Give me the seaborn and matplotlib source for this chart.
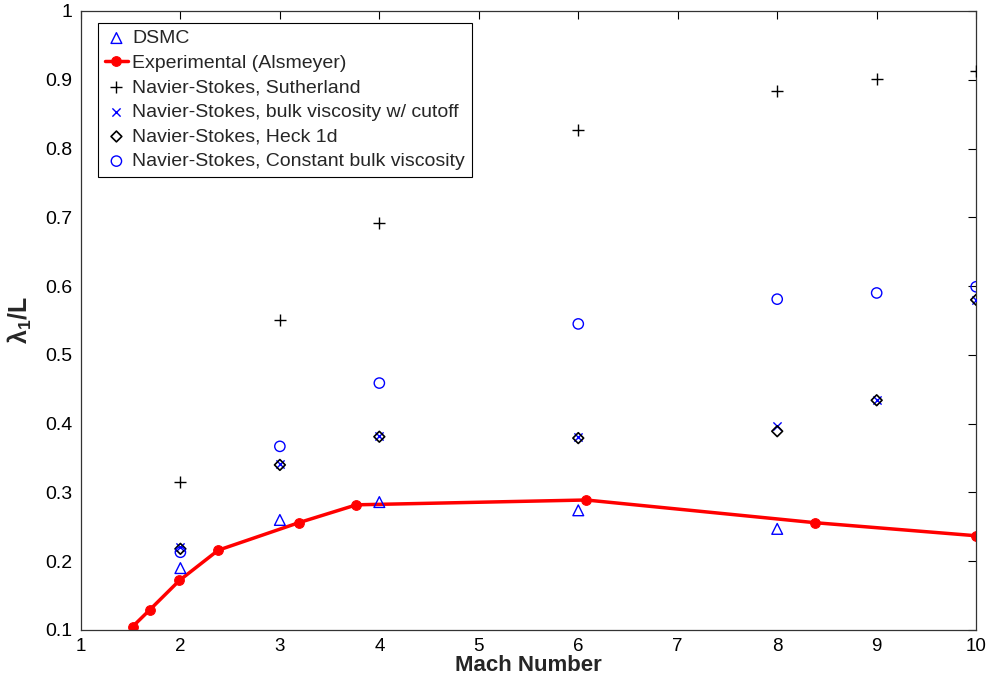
import matplotlib
matplotlib.use("Agg")
import matplotlib.pyplot as plt
import seaborn as sns
import pandas as pd

# ---- data ----
mach = [2, 3, 4, 6, 8, 9, 10]
dsmc_mach = [2, 3, 4, 6, 8]
dsmc = [0.190, 0.260, 0.286, 0.274, 0.247]
exp_mach = [1.52, 1.69, 1.99, 2.38, 3.19, 3.77, 6.08, 8.38, 10.0]
exp_val = [0.105, 0.129, 0.172, 0.216, 0.256, 0.282, 0.289, 0.256, 0.237]
sutherland = [0.315, 0.551, 0.692, 0.827, 0.883, 0.901, 0.913]
bulk_cutoff = [0.220, 0.341, 0.382, 0.380, 0.396, 0.434, 0.580]
heck1d = [0.218, 0.340, 0.381, 0.379, 0.389, 0.434, 0.580]
const_bulk = [0.213, 0.367, 0.459, 0.545, 0.581, 0.590, 0.599]
x_ticks = [1, 2, 3, 4, 5, 6, 7, 8, 9, 10]
y_ticks = [0.1, 0.2, 0.3, 0.4, 0.5, 0.6, 0.7, 0.8, 0.9, 1.0]
y_ticklabels = ["0.1", "0.2", "0.3", "0.4", "0.5", "0.6", "0.7", "0.8", "0.9", "1"]

sns.set_style("white")
plt.rcParams['font.family'] = ['Liberation Sans', 'DejaVu Sans']
plt.rcParams['mathtext.fontset'] = 'custom'
plt.rcParams['mathtext.rm'] = 'Liberation Sans'
plt.rcParams['mathtext.it'] = 'Liberation Sans'
plt.rcParams['mathtext.bf'] = 'Liberation Sans:bold'

fig = plt.figure(figsize=(9.87, 6.81), dpi=100)
ax = fig.add_axes([0.082, 0.0749, 0.907, 0.909])

blue = "#0000ff"

sns.scatterplot(x=dsmc_mach, y=dsmc, ax=ax, marker="^", s=60, facecolor="none",
                edgecolor=blue, linewidth=1.0, label="DSMC", zorder=3)
sns.lineplot(x=exp_mach, y=exp_val, ax=ax, color="red", linewidth=2.5, marker="o",
             markersize=7, markeredgecolor="red", label="Experimental (Alsmeyer)",
             sort=False, zorder=2)
sns.scatterplot(x=mach, y=sutherland, ax=ax, marker="+", s=70, color="black",
                linewidth=1.0, label="Navier-Stokes, Sutherland", zorder=3)
sns.scatterplot(x=mach, y=bulk_cutoff, ax=ax, marker="x", s=35, color=blue,
                linewidth=1.0, label="Navier-Stokes, bulk viscosity w/ cutoff", zorder=3)
sns.scatterplot(x=mach, y=heck1d, ax=ax, marker="D", s=30, facecolor="none",
                edgecolor="black", linewidth=1.2, label="Navier-Stokes, Heck 1d", zorder=3)
sns.scatterplot(x=mach, y=const_bulk, ax=ax, marker="o", s=55, facecolor="none",
                edgecolor=blue, linewidth=1.0, label="Navier-Stokes, Constant bulk viscosity",
                zorder=3)

ax.set_xlim(1, 10)
ax.set_ylim(0.1, 1.0)
ax.set_xticks(x_ticks)
ax.set_xticklabels([str(t) for t in x_ticks])
ax.set_yticks(y_ticks)
ax.set_yticklabels(y_ticklabels)
ax.tick_params(direction="in", top=True, right=True, length=6, width=0.8,
               colors="black", pad=6)
ax.tick_params(axis="y", labelsize=14)
ax.tick_params(axis="x", labelsize=13.5)
for sp in ax.spines.values():
    sp.set_visible(True)
    sp.set_color("#333333")
    sp.set_linewidth(0.9)

ax.set_xlabel("Mach Number", fontsize=16, fontweight="bold", labelpad=0)
ax.set_ylabel(r"$\mathbf{\lambda_1/L}$", fontsize=18, labelpad=8)

leg = ax.legend(loc="upper left", bbox_to_anchor=(0.019, 0.981), fontsize=14,
                frameon=True, fancybox=False, edgecolor="black", framealpha=1,
                handlelength=1.2, handletextpad=0.2, borderpad=0.35, labelspacing=0.36,
                borderaxespad=0)
leg.get_frame().set_linewidth(0.8)

fig.savefig("out.png", dpi=100)
